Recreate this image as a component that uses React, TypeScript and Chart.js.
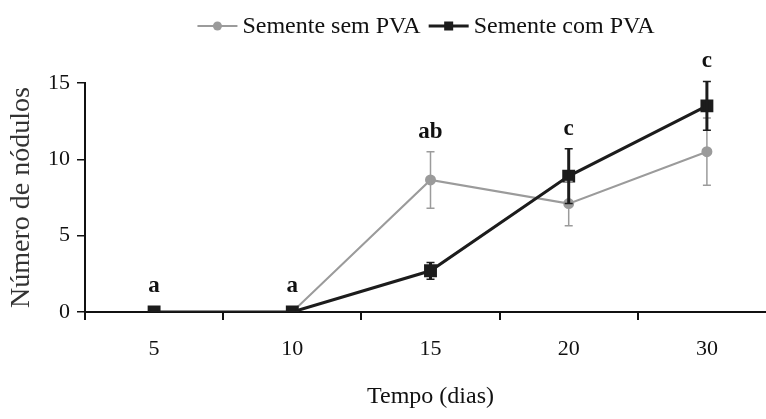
import React, { useEffect, useRef } from "react";
import { Chart, registerables } from "chart.js";

Chart.register(...registerables);

const categories = ["5", "10", "15", "20", "30"];
const semPVA = [0, 0, 8.65, 7.1, 10.5];
const semPVAErr = [0, 0, 1.85, 1.45, 2.2];
const comPVA = [0, 0, 2.7, 8.9, 13.5];
const comPVAErr = [0, 0, 0.55, 1.8, 1.6];
const letters = ["a", "a", "ab", "c", "c"];
const seriesNames = ["Semente sem PVA", "Semente com PVA"];
const yTickValues = [0, 5, 10, 15];

const SERIF = '"Liberation Serif", "Times New Roman", serif';
const GRAY = "#9b9b9b";
const BLACK = "#1c1c1c";

const overlayPlugin = {
  id: "overlay",
  afterDatasetsDraw(chart: any) {
    const ctx = chart.ctx;
    const xs = chart.scales.x;
    const ys = chart.scales.y;
    ctx.save();
    // error bars
    chart.data.datasets.forEach((ds: any) => {
      const errs: number[] = ds.errors;
      ctx.strokeStyle = ds.borderColor;
      ctx.lineWidth = ds.errWidth;
      ds.data.forEach((v: number, i: number) => {
        const e = errs[i];
        if (!e) return;
        const px = xs.getPixelForValue(i);
        const top = ys.getPixelForValue(v + e);
        const bot = ys.getPixelForValue(v - e);
        ctx.beginPath();
        ctx.moveTo(px, top);
        ctx.lineTo(px, bot);
        ctx.stroke();
        ctx.lineWidth = 1.5;
        ctx.beginPath();
        ctx.moveTo(px - 4, top);
        ctx.lineTo(px + 4, top);
        ctx.moveTo(px - 4, bot);
        ctx.lineTo(px + 4, bot);
        ctx.stroke();
        ctx.lineWidth = ds.errWidth;
      });
    });
    // letters
    ctx.fillStyle = "#111";
    ctx.font = `bold 23px ${SERIF}`;
    ctx.textAlign = "center";
    ctx.textBaseline = "alphabetic";
    letters.forEach((l, i) => {
      let topPx = Infinity;
      chart.data.datasets.forEach((ds: any) => {
        const v = ds.data[i];
        const e = ds.errors[i] || 0;
        topPx = Math.min(topPx, ys.getPixelForValue(v + e), ys.getPixelForValue(v) - 6);
      });
      ctx.fillText(l, xs.getPixelForValue(i), topPx - 14);
    });
    ctx.restore();
  },
  afterDraw(chart: any) {
    const ctx = chart.ctx;
    ctx.save();
    ctx.font = `24px ${SERIF}`;
    ctx.textBaseline = "middle";
    ctx.textAlign = "left";
    const lineW = 40;
    const gapText = 5;
    const gapItem = 8;
    const items = chart.data.datasets.map((ds: any) => ({
      ds,
      w: ctx.measureText(ds.label).width,
    }));
    const total = items.reduce((s: number, it: any) => s + lineW + gapText + it.w, 0) + gapItem * (items.length - 1);
    let x = 426 - total / 2;
    const y = 26;
    items.forEach((it: any) => {
      const ds = it.ds;
      ctx.strokeStyle = ds.borderColor;
      ctx.lineWidth = ds.borderWidth;
      ctx.beginPath();
      ctx.moveTo(x, y);
      ctx.lineTo(x + lineW, y);
      ctx.stroke();
      ctx.fillStyle = ds.borderColor;
      const cx = x + lineW / 2;
      if (ds.pointStyle === "rect") {
        ctx.fillRect(cx - 4.5, y - 4.5, 9, 9);
      } else {
        ctx.beginPath();
        ctx.arc(cx, y, 4.5, 0, Math.PI * 2);
        ctx.fill();
      }
      ctx.fillStyle = "#111";
      ctx.fillText(ds.label, x + lineW + gapText, y + 1);
      x += lineW + gapText + it.w + gapItem;
    });
    ctx.restore();
  },
};

export default function App() {
  const ref = useRef<HTMLCanvasElement | null>(null);

  useEffect(() => {
    if (!ref.current) return;
    const chart = new Chart(ref.current, {
      type: "line",
      data: {
        labels: categories,
        datasets: [
          {
            label: seriesNames[0],
            data: semPVA,
            errors: semPVAErr,
            errWidth: 1.5,
            borderColor: GRAY,
            backgroundColor: GRAY,
            borderWidth: 2,
            pointStyle: "circle",
            pointRadius: 4.5,
            pointBackgroundColor: GRAY,
            pointBorderColor: GRAY,
            order: 1,
          } as any,
          {
            label: seriesNames[1],
            data: comPVA,
            errors: comPVAErr,
            errWidth: 3,
            borderColor: BLACK,
            backgroundColor: BLACK,
            borderWidth: 3,
            pointStyle: "rect",
            pointRadius: 7,
            pointBackgroundColor: BLACK,
            pointBorderColor: BLACK,
            order: 0,
          } as any,
        ],
      },
      options: {
        animation: false,
        responsive: false,
        devicePixelRatio: 1,
        layout: { padding: { top: 83, right: 14, left: 0, bottom: 0 } },
        plugins: {
          legend: { display: false },
          tooltip: { enabled: false },
        },
        scales: {
          x: {
            type: "category",
            offset: true,
            grid: {
              display: true,
              offset: true,
              drawOnChartArea: false,
              drawTicks: true,
              tickLength: 8,
              color: "#111",
              lineWidth: 2,
            },
            border: { display: true, color: "#111", width: 2 },
            ticks: {
              autoSkip: false,
              maxRotation: 0,
              padding: 16,
              color: "#111",
              font: { family: SERIF, size: 22 },
            },
            title: {
              display: true,
              text: "Tempo (dias)",
              color: "#111",
              font: { family: SERIF, size: 24 },
              padding: { top: 0, bottom: 8 },
            },
            afterFit(scale: any) {
              scale.height = 107;
            },
          },
          y: {
            min: 0,
            max: 15,
            afterBuildTicks(scale: any) {
              scale.ticks = yTickValues.map((v) => ({ value: v }));
            },
            grid: {
              display: true,
              drawOnChartArea: false,
              drawTicks: true,
              tickLength: 8,
              color: "#111",
              lineWidth: 1.5,
            },
            border: { display: true, color: "#111", width: 2 },
            ticks: {
              padding: 7,
              color: "#111",
              font: { family: SERIF, size: 22 },
            },
            title: {
              display: true,
              text: "Número de nódulos",
              color: "#333",
              font: { family: SERIF, size: 28 },
              padding: { top: 5, bottom: 0 },
            },
            afterFit(scale: any) {
              scale.width = 85;
            },
          },
        },
      },
      plugins: [overlayPlugin],
    } as any);
    return () => chart.destroy();
  }, []);

  return (
    <div
      style={{
        position: "absolute",
        left: 0,
        top: 0,
        width: 766,
        height: 419,
        overflow: "hidden",
        background: "#fff",
      }}
    >
      <canvas ref={ref} width={790} height={419} style={{ display: "block", width: 790, height: 419 }} />
    </div>
  );
}
